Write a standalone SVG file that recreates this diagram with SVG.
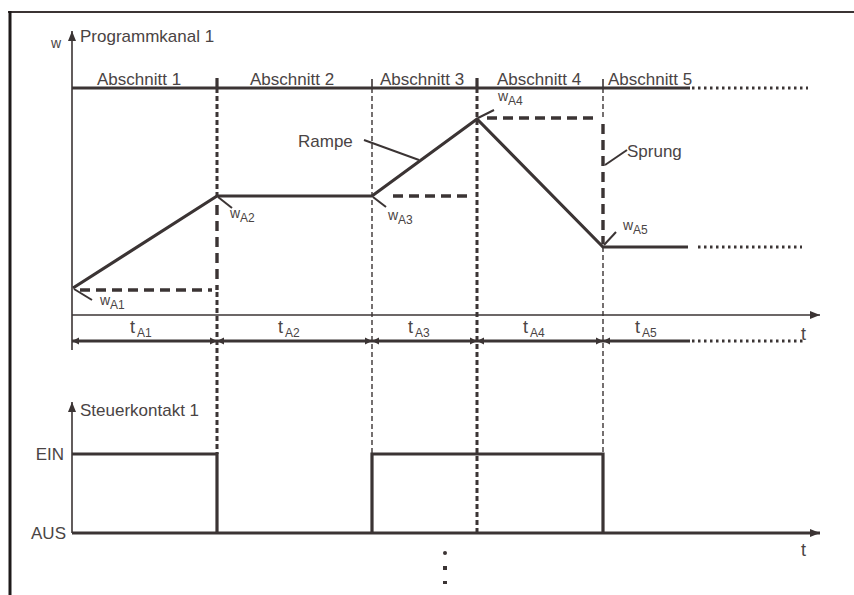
<svg xmlns="http://www.w3.org/2000/svg" width="854" height="595" viewBox="0 0 854 595">
<defs>
<style>
.ln{stroke:#3b3434;fill:none}
.ax{stroke:#3b3434;stroke-width:1.6;fill:none}
.thk{stroke:#3b3434;stroke-width:3.2;fill:none}
.dth{stroke:#3b3434;stroke-width:3;fill:none;stroke-dasharray:5 3}
.dtn{stroke:#3b3434;stroke-width:1.4;fill:none;stroke-dasharray:5 3}
.dlg{stroke:#3b3434;stroke-width:3.4;fill:none;stroke-dasharray:10 6}
.dot{stroke:#3b3434;stroke-width:3;fill:none;stroke-dasharray:2.5 3.5}
.ldr{stroke:#3b3434;stroke-width:2;fill:none}
text{font-family:"Liberation Sans",Arial,sans-serif;fill:#4a4444}
.lb{font-size:17px}
.w{font-size:14px}
.sub{font-size:12px}
.t{font-size:18px}
</style>
<marker id="ah" viewBox="0 0 10 10" refX="10" refY="5" markerWidth="10" markerHeight="10" markerUnits="userSpaceOnUse" orient="auto">
<path d="M0,1 L10,5 L0,9 Z" fill="#3b3434"/>
</marker>
<marker id="dm" viewBox="0 0 8 8" refX="8" refY="4" markerWidth="7" markerHeight="8" markerUnits="userSpaceOnUse" orient="auto-start-reverse">
<path d="M0,0 L8,4 L0,8 Z" fill="#3b3434"/>
</marker>
</defs>

<!-- frame -->
<g id="frame">
<line x1="8" y1="12" x2="854" y2="12" stroke="#3b3434" stroke-width="2"/>
<line x1="10" y1="11" x2="10" y2="595" stroke="#1e1a1a" stroke-width="3"/>
</g>

<!-- upper diagram axes -->
<g id="upper-axes">
<line class="ax" x1="72" y1="350" x2="72" y2="31" marker-end="url(#ah)"/>
<line class="ax" x1="72" y1="315" x2="820" y2="315" marker-end="url(#ah)"/>
<text class="w" x="51" y="48">w</text>
<text class="lb" x="80" y="42">Programmkanal 1</text>
<text class="t" x="801" y="340">t</text>
</g>

<!-- section line -->
<g id="sections">
<line class="thk" x1="72" y1="88" x2="690" y2="88"/>
<line class="dot" x1="692" y1="88" x2="808" y2="88"/>
<line class="thk" x1="217" y1="78" x2="217" y2="88"/>
<line class="thk" x1="477" y1="78" x2="477" y2="88"/>
<line class="ax" x1="372" y1="79" x2="372" y2="88"/>
<line class="ax" x1="603" y1="79" x2="603" y2="88"/>
<text class="lb" x="97" y="85">Abschnitt 1</text>
<text class="lb" x="250" y="85">Abschnitt 2</text>
<text class="lb" x="380" y="85">Abschnitt 3</text>
<text class="lb" x="497" y="85">Abschnitt 4</text>
<text class="lb" x="608" y="85">Abschnitt 5</text>
</g>

<!-- vertical dividers -->
<g id="dividers">
<line class="dth" x1="217" y1="88" x2="217" y2="196"/>
<line class="dlg" x1="217" y1="205" x2="217" y2="290"/>
<line class="dth" x1="217" y1="292" x2="217" y2="454"/>
<line class="dtn" x1="372" y1="88" x2="372" y2="454"/>
<line class="dth" x1="477" y1="88" x2="477" y2="533"/>
<line class="dtn" x1="603" y1="88" x2="603" y2="118"/>
<line class="dlg" x1="603" y1="124" x2="603" y2="244"/>
<line class="dtn" x1="603" y1="247" x2="603" y2="454"/>
</g>

<!-- setpoint curve -->
<g id="curve">
<polyline class="thk" points="73,288 217,196 372,196 477,119 603,247 688,247"/>
<line class="dot" x1="698" y1="247" x2="802" y2="247" stroke-dasharray="3 9"/>
<line class="dlg" x1="80" y1="290" x2="212" y2="290"/>
<line class="dlg" x1="393" y1="196" x2="470" y2="196"/>
<line class="dlg" x1="487" y1="118" x2="598" y2="118"/>
</g>

<!-- labels w_A -->
<g id="wlabels">
<line class="ldr" x1="74" y1="289" x2="92" y2="300"/>
<text class="w" x="100" y="305">w</text><text class="sub" x="110" y="309">A1</text>
<line class="ldr" x1="218" y1="197" x2="232" y2="208"/>
<text class="w" x="230" y="218">w</text><text class="sub" x="240" y="222">A2</text>
<line class="ldr" x1="373" y1="197" x2="386" y2="207"/>
<text class="w" x="388" y="220">w</text><text class="sub" x="398" y="224">A3</text>
<line class="ldr" x1="478" y1="118" x2="494" y2="110"/>
<text class="w" x="498" y="101">w</text><text class="sub" x="508" y="105">A4</text>
<line class="ldr" x1="604" y1="245" x2="616" y2="232"/>
<text class="w" x="623" y="230">w</text><text class="sub" x="633" y="234">A5</text>
</g>

<g id="rampe">
<text class="lb" x="298" y="147">Rampe</text>
<line class="ldr" x1="364" y1="140" x2="419" y2="160"/>
</g>
<g id="sprung">
<text class="lb" x="627" y="157">Sprung</text>
<line class="ldr" x1="605" y1="165" x2="627" y2="150"/>
</g>

<!-- duration line -->
<g id="durations">
<line class="thk" x1="72" y1="341" x2="217" y2="341" marker-start="url(#dm)" marker-end="url(#dm)"/>
<line class="thk" x1="217" y1="341" x2="372" y2="341" marker-start="url(#dm)" marker-end="url(#dm)"/>
<line class="thk" x1="372" y1="341" x2="477" y2="341" marker-start="url(#dm)" marker-end="url(#dm)"/>
<line class="thk" x1="477" y1="341" x2="603" y2="341" marker-start="url(#dm)" marker-end="url(#dm)"/>
<line class="thk" x1="603" y1="341" x2="690" y2="341" marker-start="url(#dm)"/>
<line class="dot" x1="692" y1="341" x2="806" y2="341"/>
<text class="t" x="130" y="333">t</text><text class="sub" x="137" y="337">A1</text>
<text class="t" x="278" y="333">t</text><text class="sub" x="285" y="337">A2</text>
<text class="t" x="408" y="333">t</text><text class="sub" x="415" y="337">A3</text>
<text class="t" x="523" y="333">t</text><text class="sub" x="530" y="337">A4</text>
<text class="t" x="635" y="333">t</text><text class="sub" x="642" y="337">A5</text>
</g>

<!-- lower diagram -->
<g id="lower-axes">
<line class="ax" x1="72" y1="533" x2="72" y2="402" marker-end="url(#ah)"/>
<line class="thk" x1="72" y1="533" x2="820" y2="533" marker-end="url(#ah)"/>
<text class="lb" x="80" y="416">Steuerkontakt 1</text>
<text class="lb" x="64" y="460" text-anchor="end">EIN</text>
<text class="lb" x="66" y="539" text-anchor="end">AUS</text>
<text class="t" x="801" y="556">t</text>
</g>
<g id="contact">
<polyline class="thk" points="72,454 217,454 217,533"/>
<polyline class="thk" points="372,533 372,454 603,454 603,533"/>
</g>
<g id="cont-dots">
<circle cx="445" cy="553" r="2" fill="#3b3434"/>
<rect x="443" y="566" width="4" height="4" fill="#3b3434"/>
<rect x="443" y="581" width="4" height="3" fill="#3b3434"/>
</g>
</svg>
